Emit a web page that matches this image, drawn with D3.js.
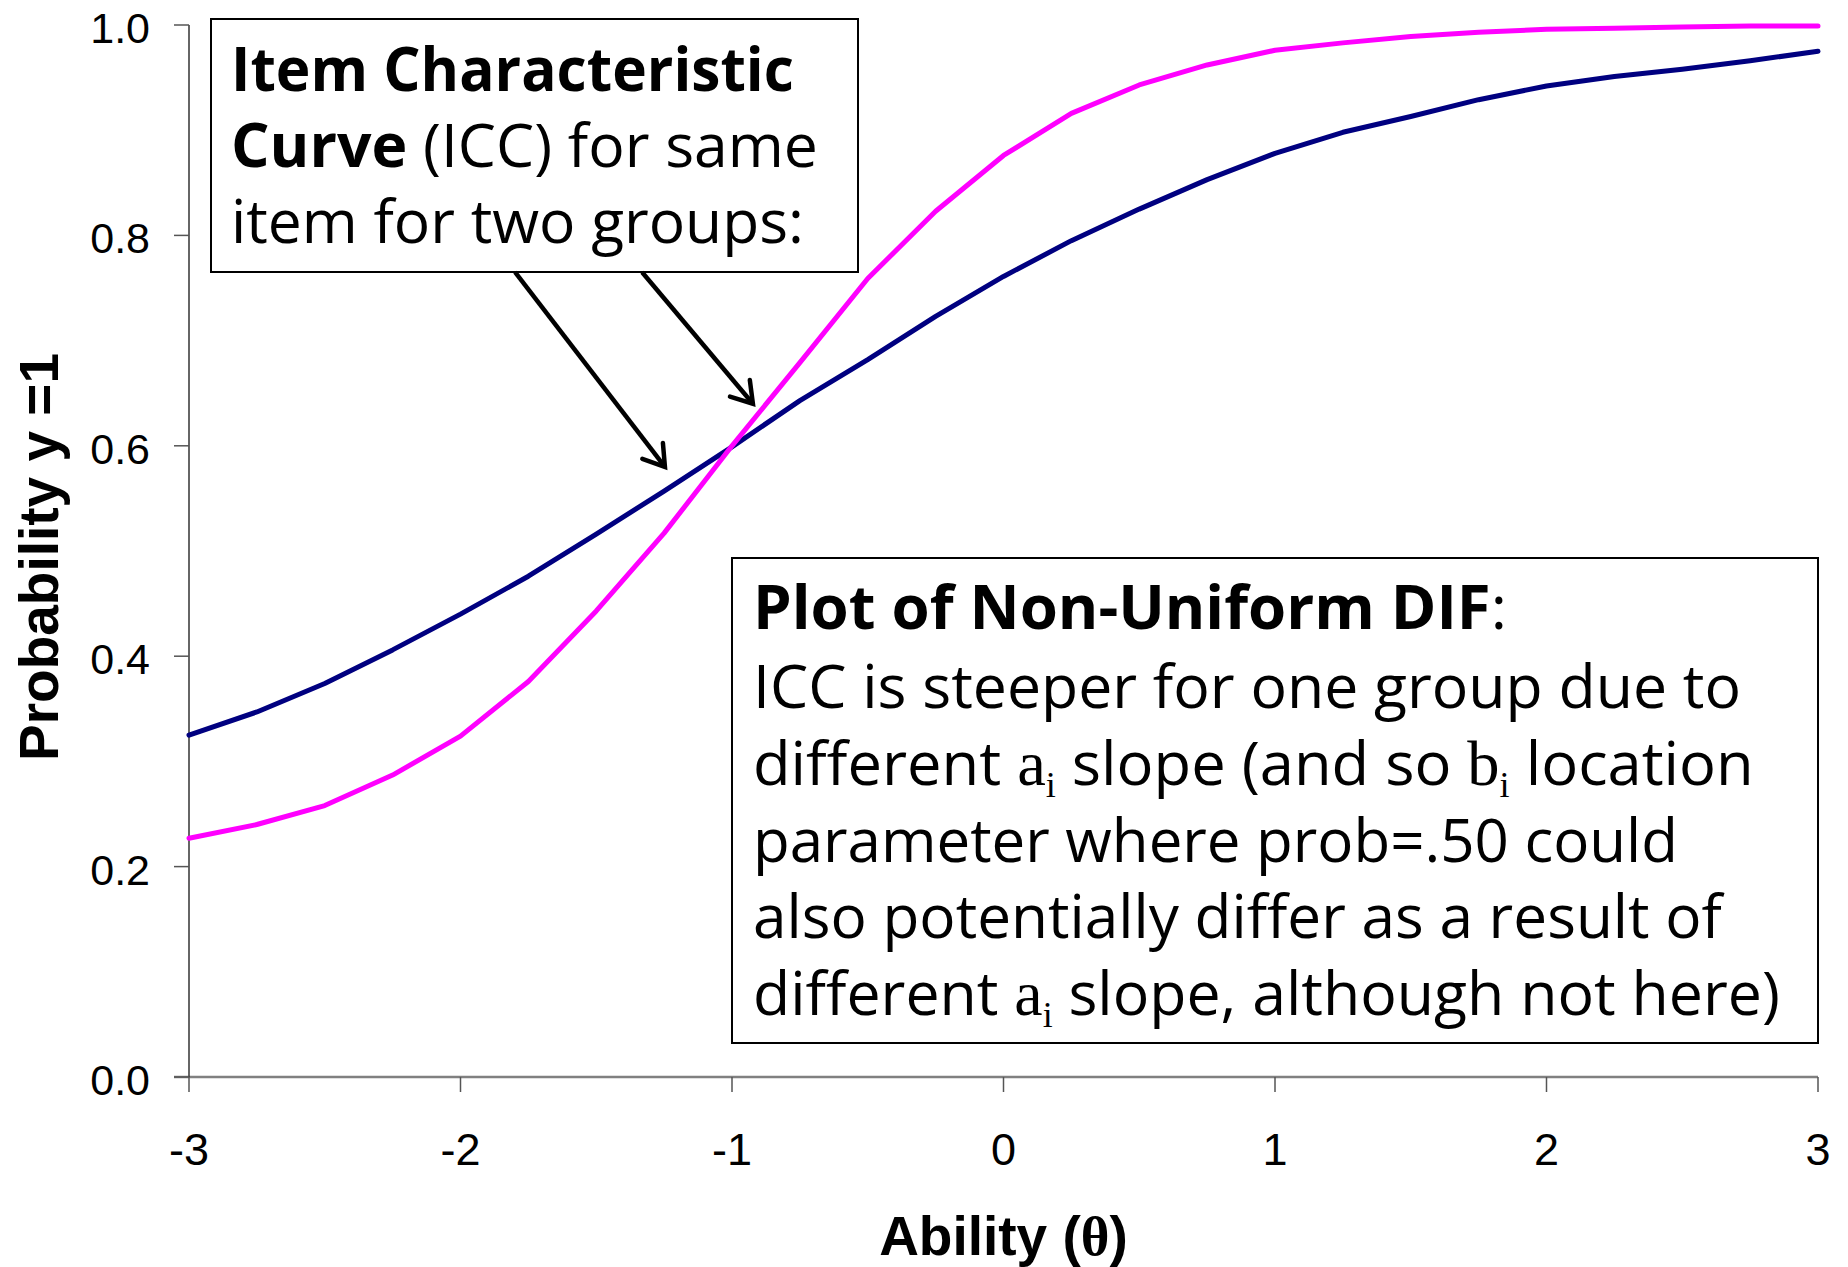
<!DOCTYPE html>
<html>
<head>
<meta charset="utf-8">
<script src="https://cdn.jsdelivr.net/npm/d3@7"></script>
<style>
  html, body { margin: 0; padding: 0; background: #fff; }
  svg { display: block; }
</style>
</head>
<body>
<svg id="chart" width="1848" height="1267"></svg>
<script>
// ---------------- data ----------------
const theta = [-3, -2.75, -2.5, -2.25, -2, -1.75, -1.5, -1.25, -1, -0.75, -0.5, -0.25,
               0, 0.25, 0.5, 0.75, 1, 1.25, 1.5, 1.75, 2, 2.25, 2.5, 2.75, 3];
const groupSteep = [0.227, 0.240, 0.258, 0.287, 0.324, 0.376, 0.443, 0.517, 0.600, 0.679,
                    0.759, 0.823, 0.876, 0.916, 0.943, 0.962, 0.976, 0.983, 0.989, 0.993,
                    0.996, 0.997, 0.998, 0.999, 0.999];
const groupFlat  = [0.325, 0.347, 0.374, 0.406, 0.440, 0.476, 0.516, 0.557, 0.599, 0.643,
                    0.682, 0.723, 0.761, 0.795, 0.825, 0.853, 0.878, 0.898, 0.913, 0.929,
                    0.942, 0.951, 0.958, 0.966, 0.975];
const xTicks = [-3, -2, -1, 0, 1, 2, 3];
const yTicks = [0, 0.2, 0.4, 0.6, 0.8, 1.0];
const xTitle = "Ability (";
const xTitleSym = "θ";
const yTitle = "Probability y =1";

// ---------------- layout ----------------
const svg = d3.select("#chart");
const x = d3.scaleLinear().domain([-3, 3]).range([189, 1818]);
const y = d3.scaleLinear().domain([0, 1]).range([1077, 25]);

// axes
const axisColor = "#555";
svg.append("line").attr("x1", 174).attr("x2", x(3)).attr("y1", y(0)).attr("y2", y(0))
  .attr("stroke", "#808080").attr("stroke-width", 2.5);
svg.append("line").attr("x1", x(-3)).attr("x2", x(-3)).attr("y1", y(1)).attr("y2", y(0))
  .attr("stroke", "#333").attr("stroke-width", 1.5);

const yAx = svg.append("g");
yAx.selectAll("line").data(yTicks).join("line")
  .attr("x1", 174).attr("x2", x(-3)).attr("y1", d => y(d)).attr("y2", d => y(d))
  .attr("stroke", axisColor).attr("stroke-width", 1.5);
yAx.selectAll("text").data(yTicks).join("text")
  .attr("x", 150).attr("y", d => y(d) + 18)
  .attr("text-anchor", "end")
  .attr("font-family", "'Liberation Sans', Arial, sans-serif")
  .attr("font-size", 43).attr("fill", "#000")
  .text(d => d3.format(".1f")(d));

const xAx = svg.append("g");
xAx.selectAll("line").data(xTicks).join("line")
  .attr("x1", d => x(d)).attr("x2", d => x(d)).attr("y1", y(0)).attr("y2", y(0) + 15)
  .attr("stroke", axisColor).attr("stroke-width", 1.5);
xAx.selectAll("text").data(xTicks).join("text")
  .attr("x", d => x(d)).attr("y", 1165)
  .attr("text-anchor", "middle")
  .attr("font-family", "'Liberation Sans', Arial, sans-serif")
  .attr("font-size", 45).attr("fill", "#000")
  .text(d => d);

// axis titles
const xt = svg.append("text").attr("x", (x(-3) + x(3)) / 2).attr("y", 1255)
  .attr("text-anchor", "middle")
  .attr("font-family", "'Liberation Sans', Arial, sans-serif")
  .attr("font-weight", "bold").attr("font-size", 55);
xt.append("tspan").text(xTitle);
xt.append("tspan").attr("font-family", "'Liberation Serif', 'Times New Roman', serif").text(xTitleSym);
xt.append("tspan").text(")");

svg.append("text")
  .attr("transform", `translate(58, 557) rotate(-90)`)
  .attr("text-anchor", "middle")
  .attr("font-family", "'Liberation Sans', Arial, sans-serif")
  .attr("font-weight", "bold").attr("font-size", 55)
  .text(yTitle);

// curves
const line = d3.line().x((d, i) => x(theta[i])).y(d => y(d));
svg.append("path").datum(groupFlat).attr("d", line)
  .attr("fill", "none").attr("stroke", "#000080").attr("stroke-width", 5)
  .attr("stroke-linejoin", "round").attr("stroke-linecap", "round");
svg.append("path").datum(groupSteep).attr("d", line)
  .attr("fill", "none").attr("stroke", "#FF00FF").attr("stroke-width", 5)
  .attr("stroke-linejoin", "round").attr("stroke-linecap", "round");

// ---------------- annotations ----------------
const boxFont = "'Open Sans', 'Noto Sans', sans-serif";
const serif = "'Liberation Serif', 'Times New Roman', serif";

function drawBox(x0, y0, x1, y1, sw) {
  svg.append("rect").attr("x", x0).attr("y", y0).attr("width", x1 - x0).attr("height", y1 - y0)
    .attr("fill", "#fff").attr("stroke", "#000").attr("stroke-width", sw);
}

// each line: list of segments [text, style], style: "b" bold, "n" normal, "a" serif letter, "s" subscript
function drawLine(lx, base, width, segs) {
  const g = svg.append("g").attr("transform", `translate(${lx},${base})`);
  const t = g.append("text").attr("x", 0).attr("y", 0)
    .attr("font-family", boxFont).attr("font-size", 61).attr("fill", "#000");
  let shifted = false;
  segs.forEach(([txt, st]) => {
    const sp = t.append("tspan").text(txt);
    if (st === "b") sp.attr("font-weight", "bold");
    if (st === "a") sp.attr("font-family", serif).attr("font-size", 64);
    if (st === "s") { sp.attr("font-family", serif).attr("font-size", 36).attr("dy", 12); shifted = true; }
    else if (shifted) { sp.attr("dy", -12); shifted = false; }
  });
  const w = t.node().getComputedTextLength();
  t.attr("transform", `scale(${width / w},1)`);
}

drawBox(211, 19, 858, 272, 2);
drawLine(231, 91, 563, [["Item Characteristic", "b"]]);
drawLine(231, 167, 587, [["Curve", "b"], [" (ICC) for same", "n"]]);
drawLine(231, 243, 573, [["item for two groups:", "n"]]);

drawBox(732, 558, 1818, 1043, 2);
drawLine(753, 629, 754, [["Plot of Non-Uniform DIF", "b"], [":", "n"]]);
drawLine(753, 708, 988, [["ICC is steeper for one group due to", "n"]]);
drawLine(753, 785, 1001, [["different ", "n"], ["a", "a"], ["i", "s"], [" slope (and so ", "n"], ["b", "a"], ["i", "s"], [" location", "n"]]);
drawLine(753, 862, 925, [["parameter where prob=.50 could", "n"]]);
drawLine(753, 938, 969, [["also potentially differ as a result of", "n"]]);
drawLine(753, 1015, 1027, [["different ", "n"], ["a", "a"], ["i", "s"], [" slope, although not here)", "n"]]);

// arrows (positions in data space)
const arrows = [
  { from: [-1.799, 0.765], to: [-1.247, 0.58] },
  { from: [-1.331, 0.765], to: [-0.923, 0.64] }
];
arrows.forEach(a => {
  const x0 = x(a.from[0]), y0 = y(a.from[1]), x1 = x(a.to[0]), y1 = y(a.to[1]);
  svg.append("line").attr("x1", x0).attr("y1", y0).attr("x2", x1).attr("y2", y1)
    .attr("stroke", "#000").attr("stroke-width", 4.5);
  const ang = Math.atan2(y1 - y0, x1 - x0);
  const L = 24, spread = Math.PI / 5.5;
  const p1 = [x1 - L * Math.cos(ang - spread), y1 - L * Math.sin(ang - spread)];
  const p2 = [x1 - L * Math.cos(ang + spread), y1 - L * Math.sin(ang + spread)];
  svg.append("path").attr("d", `M${p1[0]},${p1[1]}L${x1},${y1}L${p2[0]},${p2[1]}`)
    .attr("fill", "none").attr("stroke", "#000").attr("stroke-width", 4.5)
    .attr("stroke-linejoin", "miter").attr("stroke-linecap", "round");
});
</script>
</body>
</html>
